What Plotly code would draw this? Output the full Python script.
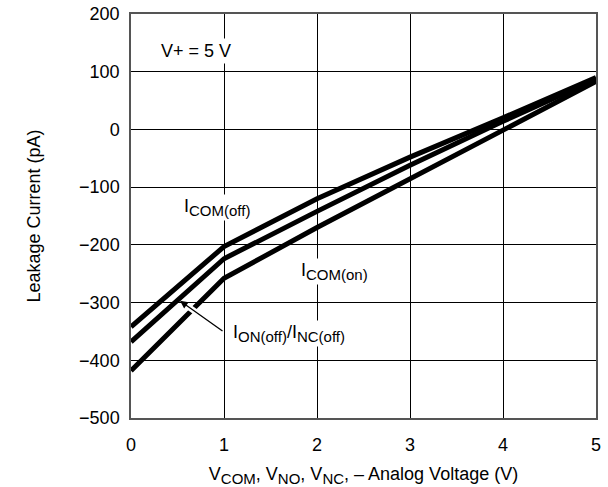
import plotly.graph_objects as go

voltage = [0, 1, 2, 3, 4, 5]
icom_off = [-342, -203, -120, -48, 20, 90]
ion_inc_off = [-368, -224, -142, -62, 14, 87]
icom_on = [-418, -258, -170, -86, -2, 83]

x_ticks = [0, 1, 2, 3, 4, 5]
y_ticks = [-500, -400, -300, -200, -100, 0, 100, 200]

FONT = "Liberation Sans, Arial, sans-serif"
FS = 18


def sub(t):
    return '<sub><span style="font-size:15px">' + t + '</span></sub>'


fig = go.Figure()
for ys in (icom_off, ion_inc_off, icom_on):
    fig.add_trace(go.Scatter(x=voltage, y=ys, mode="lines",
                             line=dict(color="black", width=5),
                             showlegend=False, hoverinfo="skip"))

# white gap where arrow crosses bottom curve
fig.add_shape(type="line", x0=0.60, y0=-305.4, x1=0.73, y1=-320.2,
              xref="x", yref="y", line=dict(color="white", width=6), layer="above")

fig.add_annotation(x=0.527, y=-297, ax=1.0, ay=-351, axref="x", ayref="y",
                   xref="x", yref="y", text="", showarrow=True,
                   arrowhead=2, arrowsize=1.2, arrowwidth=1.3, arrowcolor="black")

ann_font = dict(family=FONT, size=FS, color="black")
fig.add_annotation(x=0.70, y=136, text="V+ = 5 V", showarrow=False,
                   font=ann_font, bgcolor="white", borderpad=2)
fig.add_annotation(x=0.92, y=-135, text="I" + sub("COM(off)"), showarrow=False,
                   font=ann_font, bgcolor="white", borderpad=1)
fig.add_annotation(x=2.19, y=-247, text="I" + sub("COM(on)"), showarrow=False,
                   font=ann_font, bgcolor="white", borderpad=1)
fig.add_annotation(x=1.70, y=-353, text="I" + sub("ON(off)") + "/I" + sub("NC(off)"),
                   showarrow=False, font=ann_font, bgcolor="white", borderpad=1)

fig.update_layout(
    width=608, height=487,
    margin=dict(l=131, r=12, t=14, b=69),
    paper_bgcolor="white", plot_bgcolor="white",
    font=dict(family=FONT, size=FS, color="black"),
    xaxis=dict(range=[0, 5], tickvals=x_ticks, showgrid=True, gridcolor="black",
               gridwidth=1, zeroline=False, showline=True, linecolor="#555",
               linewidth=1.5, mirror=True, ticks="outside", ticklen=10,
               tickcolor="rgba(0,0,0,0)", automargin=False,
               title=dict(text="V" + sub("COM") + ", V" + sub("NO") + ", V" + sub("NC")
                          + ", – Analog Voltage (V)",
                          standoff=14, font=dict(size=FS))),
    yaxis=dict(range=[-500, 200], tickvals=y_ticks, showgrid=True, gridcolor="black",
               gridwidth=1, zeroline=False, showline=True, linecolor="#555",
               linewidth=1.5, mirror=True, ticks="outside", ticklen=6,
               tickcolor="rgba(0,0,0,0)", automargin=False,
               title=dict(text="Leakage Current (pA)", standoff=34, font=dict(size=FS))),
)

fig.write_html("out.html", config={"displayModeBar": False},
               post_script="document.documentElement.style.margin='0';"
                           "document.body.style.margin='0';"
                           "document.body.style.padding='0';"
                           "document.body.style.overflow='hidden';")
